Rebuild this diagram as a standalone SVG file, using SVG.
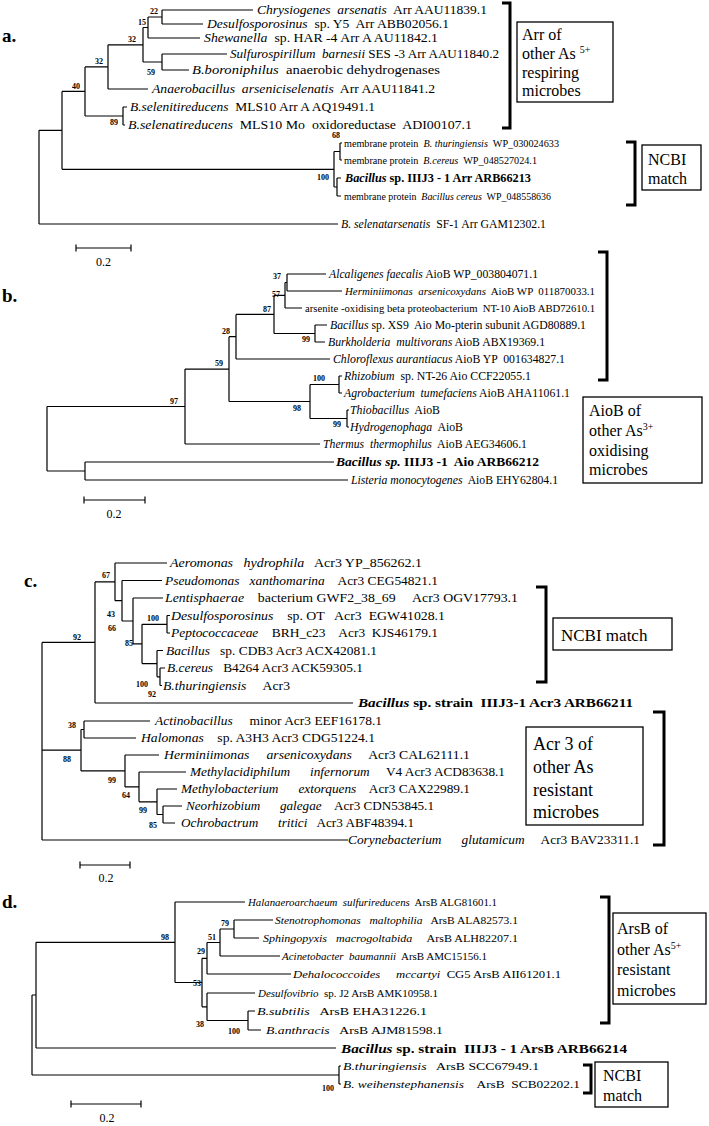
<svg xmlns="http://www.w3.org/2000/svg" width="709" height="1126" viewBox="0 0 709 1126">
<style>
.t{font-family:"Liberation Serif","Times New Roman",serif;font-size:11.5px;fill:#000;white-space:pre}
.m{font-size:10px}
.d{font-size:10.8px}
.i{font-style:italic}
.bd{font-weight:bold;font-size:13px}
.bs{font-family:"Liberation Serif","Times New Roman",serif;font-size:8px;font-weight:bold;fill:#000}
.boot{opacity:0.99}
.box{fill:#fff;stroke:#000;stroke-width:1.3}
.bt{font-family:"Liberation Serif","Times New Roman",serif;font-size:16px;fill:#000}
.sup{font-size:10px}
.br{fill:none;stroke:#000;stroke-width:3}
.ln{fill:none;stroke:#000;stroke-width:1.2}
.pl{font-family:"Liberation Serif","Times New Roman",serif;font-size:19px;font-weight:bold;fill:#000}
.sc{font-family:"Liberation Serif","Times New Roman",serif;font-size:12px;fill:#000;text-anchor:middle}
</style>
<rect width="709" height="1126" fill="#fff"/>

<!-- ================= PANEL A ================= -->
<g id="panel-a">
<text class="pl" x="2" y="42">a.</text>
<g id="a-connectors">
<path class="ln" d="M39 130.3V224M39 130.3H62M39 224H338
M62 91.4V169.3M62 91.4H85M62 169.3H334
M85 66.9V116M85 66.9H108M85 116H123
M108 44.8V89M108 44.8H143M108 89H148
M143 27.5V62M143 27.5H148M143 62H162
M148 17V38M148 17H162M148 38H200
M162 10V24M162 10H253M162 24H203
M162 54V70M162 54H227M162 70H189
M123 107V125M123 107H127M123 125H125
M334 151.5V187M334 151.5H340M334 187H337
M340 143V160M340 143H342M340 160H342
M337 178V196M337 178H341M337 196H341"/>
<path class="ln" d="M76 248H131M76 244.5V251.5M131 244.5V251.5"/>
</g>
<text class="sc" x="103.5" y="266">0.2</text>
<g id="a-boot" class="boot">
<text class="bs" x="150" y="14">22</text>
<text class="bs" x="138" y="25">15</text>
<text class="bs" x="128" y="42">32</text>
<text class="bs" x="147" y="75">59</text>
<text class="bs" x="95" y="64">32</text>
<text class="bs" x="72" y="89">40</text>
<text class="bs" x="110" y="125">89</text>
<text class="bs" x="332" y="138">68</text>
<text class="bs" x="317" y="180">100</text>
</g>
<g id="a-leaves">
<text class="t" xml:space="preserve" x="257" y="14" textLength="230" lengthAdjust="spacingAndGlyphs"><tspan class="i">Chrysiogenes  arsenatis</tspan>  Arr AAU11839.1</text>
<text class="t" xml:space="preserve" x="207" y="28" textLength="242" lengthAdjust="spacingAndGlyphs"><tspan class="i">Desulfosporosinus</tspan>  sp. Y5  Arr ABB02056.1</text>
<text class="t" xml:space="preserve" x="204" y="42" textLength="234" lengthAdjust="spacingAndGlyphs"><tspan class="i">Shewanella</tspan>  sp. HAR -4 Arr A AU11842.1</text>
<text class="t" xml:space="preserve" x="230" y="58" textLength="269" lengthAdjust="spacingAndGlyphs"><tspan class="i">Sulfurospirillum  barnesii</tspan> SES -3 Arr AAU11840.2</text>
<text class="t" xml:space="preserve" x="192" y="74" textLength="248" lengthAdjust="spacingAndGlyphs"><tspan class="i">B.boroniphilus</tspan>  anaerobic dehydrogenases</text>
<text class="t" xml:space="preserve" x="152" y="93" textLength="283" lengthAdjust="spacingAndGlyphs"><tspan class="i">Anaerobacillus  arseniciselenatis</tspan>  Arr AAU11841.2</text>
<text class="t" xml:space="preserve" x="130" y="111" textLength="245" lengthAdjust="spacingAndGlyphs"><tspan class="i">B.selenitireducens</tspan>  MLS10 Arr A AQ19491.1</text>
<text class="t" xml:space="preserve" x="128" y="129" textLength="344" lengthAdjust="spacingAndGlyphs"><tspan class="i">B.selenatireducens</tspan>  MLS10 Mo  oxidoreductase  ADI00107.1</text>
<text class="t m" xml:space="preserve" x="344" y="147" textLength="215" lengthAdjust="spacingAndGlyphs">membrane protein  <tspan class="i">B. thuringiensis</tspan>  WP_030024633</text>
<text class="t m" xml:space="preserve" x="344" y="164" textLength="193" lengthAdjust="spacingAndGlyphs">membrane protein  <tspan class="i">B.cereus</tspan>  WP_048527024.1</text>
<text class="t" xml:space="preserve" x="345" y="182" style="font-weight:bold;font-size:12px" textLength="186" lengthAdjust="spacingAndGlyphs"><tspan class="i">Bacillus</tspan> sp. IIIJ3 - 1 Arr ARB66213</text>
<text class="t m" xml:space="preserve" x="344" y="200" textLength="207" lengthAdjust="spacingAndGlyphs">membrane protein  <tspan class="i">Bacillus cereus</tspan>  WP_048558636</text>
<text class="t" xml:space="preserve" x="341" y="228" textLength="205" lengthAdjust="spacingAndGlyphs"><tspan class="i">B. selenatarsenatis</tspan>  SF-1 Arr GAM12302.1</text>
</g>
<g id="a-groups">
<path class="br" d="M502 3H510V128H502"/>
<rect class="box" x="517" y="22" width="96" height="80"/>
<text class="bt" x="522" y="40">Arr of</text>
<text class="bt" x="522" y="59">other As <tspan class="sup" dy="-6">5+</tspan></text>
<text class="bt" x="522" y="78">respiring</text>
<text class="bt" x="522" y="96">microbes</text>
<path class="br" d="M626 142H635V205H626"/>
<rect class="box" x="642" y="145" width="59" height="45"/>
<text class="bt" x="648" y="165">NCBI</text>
<text class="bt" x="648" y="184">match</text>
</g>
</g>

<!-- ================= PANEL B ================= -->
<g id="panel-b">
<text class="pl" x="2" y="302">b.</text>
<g id="b-connectors">
<path class="ln" d="M47 406.5V471M47 406.5H185M47 471H85
M85 462V480M85 462H334M85 480H348
M185 369.1V444M185 369.1H229M185 444H320
M229 336.7V401.5M229 336.7H236M229 401.5H310
M236 314.4V359M236 314.4H274M236 359H330
M274 295.3V333.5M274 295.3H285M274 333.5H315
M285 282.5V308M285 282.5H287M285 308H302
M287 274V291M287 274H326M287 291H342
M315 325V342M315 325H327M315 342H325
M310 384.5V418.5M310 384.5H339M310 418.5H347
M339 376V393M339 376H342M339 393H342
M347 410V427M347 410H349M347 427H349"/>
<path class="ln" d="M84 500H145M84 496.5V503.5M145 496.5V503.5"/>
</g>
<text class="sc" x="114" y="518">0.2</text>
<g id="b-boot" class="boot">
<text class="bs" x="273" y="279">37</text>
<text class="bs" x="272" y="297">57</text>
<text class="bs" x="263" y="312">87</text>
<text class="bs" x="302" y="342">99</text>
<text class="bs" x="222" y="334">28</text>
<text class="bs" x="215" y="366">59</text>
<text class="bs" x="313" y="381">100</text>
<text class="bs" x="293" y="411">98</text>
<text class="bs" x="333" y="427">99</text>
<text class="bs" x="170" y="404">97</text>
</g>
<g id="b-leaves">
<text class="t" xml:space="preserve" x="329" y="278" textLength="209" lengthAdjust="spacingAndGlyphs"><tspan class="i">Alcaligenes faecalis</tspan> AioB WP_003804071.1</text>
<text class="t" xml:space="preserve" x="345" y="295" style="font-size:10.8px" textLength="250" lengthAdjust="spacingAndGlyphs"><tspan class="i">Herminiimonas  arsenicoxydans</tspan>  AioB WP  011870033.1</text>
<text class="t" xml:space="preserve" x="305" y="312" style="font-size:10.5px" textLength="290" lengthAdjust="spacingAndGlyphs">arsenite -oxidising beta proteobacterium  NT-10 AioB ABD72610.1</text>
<text class="t" xml:space="preserve" x="330" y="329" textLength="256" lengthAdjust="spacingAndGlyphs"><tspan class="i">Bacillus</tspan> sp. XS9  Aio Mo-pterin subunit AGD80889.1</text>
<text class="t" xml:space="preserve" x="328" y="346" textLength="217" lengthAdjust="spacingAndGlyphs"><tspan class="i">Burkholderia  multivorans</tspan> AioB ABX19369.1</text>
<text class="t" xml:space="preserve" x="333" y="363" textLength="232" lengthAdjust="spacingAndGlyphs"><tspan class="i">Chloroflexus aurantiacus</tspan> AioB YP  001634827.1</text>
<text class="t" xml:space="preserve" x="344" y="380" textLength="187" lengthAdjust="spacingAndGlyphs"><tspan class="i">Rhizobium</tspan>  sp. NT-26 Aio CCF22055.1</text>
<text class="t" xml:space="preserve" x="344" y="397" textLength="226" lengthAdjust="spacingAndGlyphs"><tspan class="i">Agrobacterium  tumefaciens</tspan> AioB AHA11061.1</text>
<text class="t" xml:space="preserve" x="350" y="414" textLength="90" lengthAdjust="spacingAndGlyphs"><tspan class="i">Thiobacillus</tspan>  AioB</text>
<text class="t" xml:space="preserve" x="350" y="431" textLength="113" lengthAdjust="spacingAndGlyphs"><tspan class="i">Hydrogenophaga</tspan>  AioB</text>
<text class="t" xml:space="preserve" x="323" y="448" textLength="204" lengthAdjust="spacingAndGlyphs"><tspan class="i">Thermus  thermophilus</tspan>  AioB AEG34606.1</text>
<text class="t bd" xml:space="preserve" x="336" y="466" textLength="203" lengthAdjust="spacingAndGlyphs"><tspan class="i">Bacillus sp.</tspan> IIIJ3 -1  Aio ARB66212</text>
<text class="t" xml:space="preserve" x="351" y="484" textLength="207" lengthAdjust="spacingAndGlyphs"><tspan class="i">Listeria monocytogenes</tspan>  AioB EHY62804.1</text>
</g>
<g id="b-groups">
<path class="br" d="M598 252H607V380H598"/>
<rect class="box" x="583" y="397" width="119" height="86"/>
<text class="bt" x="589" y="416">AioB of</text>
<text class="bt" x="589" y="436">other As<tspan class="sup" dy="-6">3+</tspan></text>
<text class="bt" x="589" y="456">oxidising</text>
<text class="bt" x="589" y="475">microbes</text>
</g>
</g>

<!-- ================= PANEL C ================= -->
<g id="panel-c">
<text class="pl" x="24" y="587">c.</text>
<g id="c-connectors">
<path class="ln" d="M42 642.4V840M42 642.4H95M42 750.2H81M42 840H348
M95 581.9V703M95 581.9H115M95 703H353
M115 563V600.7M115 563H167M115 600.7H122
M122 580.5V621M122 580.5H162M122 621H133
M133 598V643.9M133 598H163M133 643.9H142
M142 624.3V663.6M142 624.3H167M142 663.6H157
M167 615.5V633M167 615.5H170M167 633H170
M157 650.5V676.8M157 650.5H163M157 676.8H160
M160 668V685.5M160 668H165M160 685.5H162
M81 729.5V770.9M81 729.5H84M81 770.9H125
M84 721V738M84 721H150M84 738H136
M125 755V786.9M125 755H159M125 786.9H139
M139 772V801.8M139 772H186M139 801.8H157
M157 789V814.5M157 789H177M157 814.5H163
M163 806V823M163 806H182M163 823H175"/>
<path class="ln" d="M80 865H130M80 861.5V868.5M130 861.5V868.5"/>
</g>
<text class="sc" x="106" y="882">0.2</text>
<g id="c-boot" class="boot">
<text class="bs" x="102" y="578">67</text>
<text class="bs" x="107" y="617">43</text>
<text class="bs" x="108" y="631">66</text>
<text class="bs" x="147" y="621">100</text>
<text class="bs" x="125" y="646">85</text>
<text class="bs" x="136" y="687">100</text>
<text class="bs" x="148" y="697">92</text>
<text class="bs" x="73" y="640">92</text>
<text class="bs" x="68" y="728">38</text>
<text class="bs" x="63" y="762">88</text>
<text class="bs" x="108" y="783">99</text>
<text class="bs" x="122" y="798">64</text>
<text class="bs" x="139" y="813">99</text>
<text class="bs" x="149" y="828">85</text>
</g>
<g id="c-leaves">
<text class="t" xml:space="preserve" x="170" y="567" textLength="252" lengthAdjust="spacingAndGlyphs"><tspan class="i">Aeromonas   hydrophila</tspan>   Acr3 YP_856262.1</text>
<text class="t" xml:space="preserve" x="165" y="584.5" textLength="273" lengthAdjust="spacingAndGlyphs"><tspan class="i">Pseudomonas   xanthomarina</tspan>    Acr3 CEG54821.1</text>
<text class="t" xml:space="preserve" x="165" y="602" textLength="353" lengthAdjust="spacingAndGlyphs"><tspan class="i">Lentisphaerae</tspan>    bacterium GWF2_38_69     Acr3 OGV17793.1</text>
<text class="t" xml:space="preserve" x="171" y="619.5" textLength="274" lengthAdjust="spacingAndGlyphs"><tspan class="i">Desulfosporosinus</tspan>    sp. OT   Acr3  EGW41028.1</text>
<text class="t" xml:space="preserve" x="171" y="637" textLength="267" lengthAdjust="spacingAndGlyphs"><tspan class="i">Peptococcaceae</tspan>    BRH_c23    Acr3  KJS46179.1</text>
<text class="t" xml:space="preserve" x="166" y="654.5" textLength="211" lengthAdjust="spacingAndGlyphs"><tspan class="i">Bacillus</tspan>   sp. CDB3 Acr3 ACX42081.1</text>
<text class="t" xml:space="preserve" x="167" y="672" textLength="196" lengthAdjust="spacingAndGlyphs"><tspan class="i">B.cereus</tspan>   B4264 Acr3 ACK59305.1</text>
<text class="t" xml:space="preserve" x="163" y="689.5" textLength="127" lengthAdjust="spacingAndGlyphs"><tspan class="i">B.thuringiensis</tspan>     Acr3</text>
<text class="t bd" xml:space="preserve" x="358" y="707" textLength="275" lengthAdjust="spacingAndGlyphs"><tspan class="i">Bacillus</tspan> sp. strain  IIIJ3-1 Acr3 ARB66211</text>
<text class="t" xml:space="preserve" x="155" y="725" textLength="227" lengthAdjust="spacingAndGlyphs"><tspan class="i">Actinobacillus</tspan>     minor Acr3 EEF16178.1</text>
<text class="t" xml:space="preserve" x="141" y="742" textLength="234" lengthAdjust="spacingAndGlyphs"><tspan class="i">Halomonas</tspan>    sp. A3H3 Acr3 CDG51224.1</text>
<text class="t" xml:space="preserve" x="164" y="759" textLength="306" lengthAdjust="spacingAndGlyphs"><tspan class="i">Herminiimonas     arsenicoxydans</tspan>     Acr3 CAL62111.1</text>
<text class="t" xml:space="preserve" x="190" y="776" textLength="315" lengthAdjust="spacingAndGlyphs"><tspan class="i">Methylacidiphilum      infernorum</tspan>     V4 Acr3 ACD83638.1</text>
<text class="t" xml:space="preserve" x="181" y="793" textLength="289" lengthAdjust="spacingAndGlyphs"><tspan class="i">Methylobacterium      extorquens</tspan>    Acr3 CAX22989.1</text>
<text class="t" xml:space="preserve" x="186" y="810" textLength="248" lengthAdjust="spacingAndGlyphs"><tspan class="i">Neorhizobium      galegae</tspan>    Acr3 CDN53845.1</text>
<text class="t" xml:space="preserve" x="181" y="827" textLength="233" lengthAdjust="spacingAndGlyphs"><tspan class="i">Ochrobactrum      tritici</tspan>   Acr3 ABF48394.1</text>
<text class="t" xml:space="preserve" x="348" y="844" textLength="292" lengthAdjust="spacingAndGlyphs"><tspan class="i">Corynebacterium      glutamicum</tspan>     Acr3 BAV23311.1</text>
</g>
<g id="c-groups">
<path class="br" d="M536 587H546V682H536"/>
<rect class="box" x="553" y="618" width="119" height="32"/>
<text class="bt" x="561" y="641" style="font-size:17px">NCBI match</text>
<path class="br" d="M653 712H664V845H653"/>
<rect class="box" x="526" y="727" width="117" height="98"/>
<text class="bt" x="533" y="750" style="font-size:18px">Acr 3 of</text>
<text class="bt" x="533" y="773" style="font-size:18px">other As</text>
<text class="bt" x="533" y="796" style="font-size:18px">resistant</text>
<text class="bt" x="533" y="818" style="font-size:18px">microbes</text>
</g>
</g>

<!-- ================= PANEL D ================= -->
<g id="panel-d">
<text class="pl" x="2" y="908">d.</text>
<g id="d-connectors">
<path class="ln" d="M32 995V1075M32 995H36M32 1075H339
M36 942.3V1048M36 942.3H175M36 1048H336
M175 902V982.5M175 902H245M175 982.5H202
M202 958.3V1006.8M202 958.3H207M202 1006.8H207
M207 942.5V974M207 942.5H220M207 974H291
M220 929V956M220 929H234M220 956H280
M234 920V938M234 920H273M234 938H259
M207 993V1020.5M207 993H255M207 1020.5H248
M248 1011V1030M248 1011H255M248 1030H261
M339 1066V1084M339 1066H341M339 1084H341"/>
<path class="ln" d="M71 1104H141M71 1100.5V1107.5M141 1100.5V1107.5"/>
</g>
<text class="sc" x="107" y="1122">0.2</text>
<g id="d-boot" class="boot">
<text class="bs" x="161" y="940">98</text>
<text class="bs" x="221" y="926">79</text>
<text class="bs" x="208" y="940">51</text>
<text class="bs" x="197" y="954">29</text>
<text class="bs" x="193" y="986">53</text>
<text class="bs" x="196" y="1027">38</text>
<text class="bs" x="228" y="1034">100</text>
<text class="bs" x="322" y="1091">100</text>
</g>
<g id="d-leaves">
<text class="t d" xml:space="preserve" x="248" y="906" textLength="249" lengthAdjust="spacingAndGlyphs"><tspan class="i">Halanaeroarchaeum  sulfurireducens</tspan>  ArsB ALG81601.1</text>
<text class="t d" xml:space="preserve" x="275" y="924" textLength="243" lengthAdjust="spacingAndGlyphs"><tspan class="i">Stenotrophomonas   maltophilia</tspan>   ArsB ALA82573.1</text>
<text class="t d" xml:space="preserve" x="263" y="942" textLength="255" lengthAdjust="spacingAndGlyphs"><tspan class="i">Sphingopyxis   macrogoltabida</tspan>     ArsB ALH82207.1</text>
<text class="t d" xml:space="preserve" x="282" y="960" textLength="205" lengthAdjust="spacingAndGlyphs"><tspan class="i">Acinetobacter  baumannii</tspan>  ArsB AMC15156.1</text>
<text class="t d" xml:space="preserve" x="293" y="978" textLength="268" lengthAdjust="spacingAndGlyphs"><tspan class="i">Dehalococcoides     mccartyi</tspan>  CG5 ArsB AII61201.1</text>
<text class="t d" xml:space="preserve" x="258" y="997" textLength="180" lengthAdjust="spacingAndGlyphs"><tspan class="i">Desulfovibrio</tspan>  sp. J2 ArsB AMK10958.1</text>
<text class="t d" xml:space="preserve" x="257" y="1015" textLength="170" lengthAdjust="spacingAndGlyphs"><tspan class="i">B.subtilis</tspan>   ArsB EHA31226.1</text>
<text class="t d" xml:space="preserve" x="266" y="1034" textLength="177" lengthAdjust="spacingAndGlyphs"><tspan class="i">B.anthracis</tspan>   ArsB AJM81598.1</text>
<text class="t bd" xml:space="preserve" x="341" y="1053" textLength="286" lengthAdjust="spacingAndGlyphs"><tspan class="i">Bacillus</tspan> sp. strain  IIIJ3 - 1 ArsB ARB66214</text>
<text class="t d" xml:space="preserve" x="343" y="1070" textLength="196" lengthAdjust="spacingAndGlyphs"><tspan class="i">B.thuringiensis</tspan>   ArsB SCC67949.1</text>
<text class="t d" xml:space="preserve" x="343" y="1088" textLength="237" lengthAdjust="spacingAndGlyphs"><tspan class="i">B. weihenstephanensis</tspan>    ArsB  SCB02202.1</text>
</g>
<g id="d-groups">
<path class="br" d="M600 897H609V1023H600"/>
<rect class="box" x="613" y="913" width="93" height="91"/>
<text class="bt" x="617" y="934">ArsB of</text>
<text class="bt" x="617" y="955">other As<tspan class="sup" dy="-6">5+</tspan></text>
<text class="bt" x="617" y="975">resistant</text>
<text class="bt" x="617" y="996">microbes</text>
<path class="br" d="M583 1065H591V1093H583"/>
<rect class="box" x="595" y="1062" width="73" height="45"/>
<text class="bt" x="603" y="1081">NCBI</text>
<text class="bt" x="603" y="1101">match</text>
</g>
</g>
</svg>
